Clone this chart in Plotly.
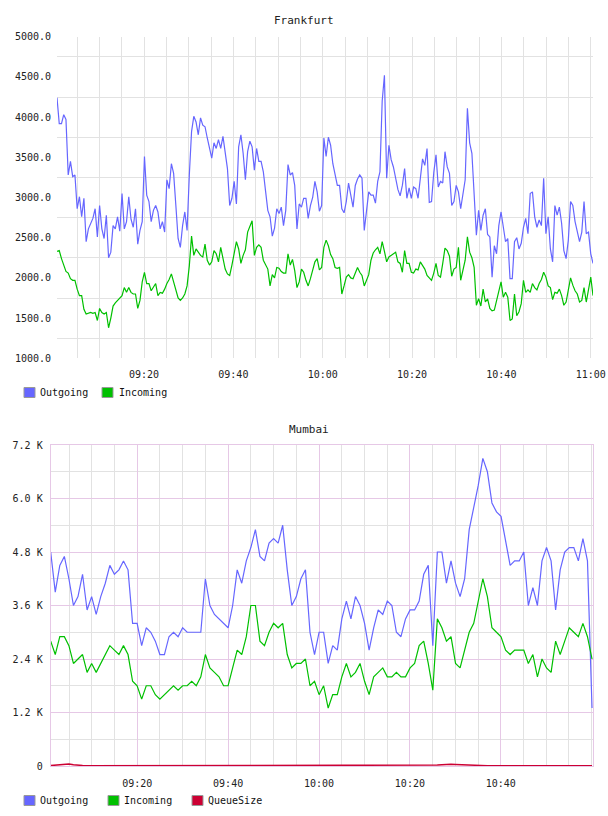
import pandas as pd
import plotly.graph_objects as go

DAY = "2024-01-01 "

# ---------------- Frankfurt (30 s samples, 09:00:31 -> 11:00:31) ----------------
fra_outgoing = [
    4240, 3920, 3920, 4030, 3970, 3280, 3450, 3260, 3280, 2860, 3010, 2760, 2990, 2450, 2610,
    2680, 2740, 2860, 2510, 2900, 2610, 2490, 2780, 2250, 2320, 2650, 2610, 2760, 2580, 3050,
    2610, 2700, 3010, 2730, 2630, 2860, 2420, 2590, 2700, 3510, 3030, 2950, 2700, 2840, 2900,
    2820, 2610, 2700, 2570, 3220, 3110, 3420, 3300, 2900, 2490, 2380, 2650, 2820, 2590, 3280,
    3820, 4010, 3940, 3780, 3990, 3900, 3880, 3740, 3630, 3490, 3680, 3610, 3720, 3610, 3760,
    3530, 3360, 2900, 2990, 3200, 2920, 3630, 3780, 3550, 3220, 3570, 3700, 3630, 3340, 3610,
    3450, 3450, 3320, 3080, 2840, 2760, 2520, 2620, 2860, 2800, 2880, 2650, 2840, 3410, 3280,
    3310, 3150, 2610, 2920, 2880, 2990, 2990, 2740, 2900, 3000, 3200, 3070, 2830, 2900, 3740,
    3510, 3750, 3650, 3420, 3260, 3150, 3150, 2860, 2810, 2950, 3180, 3030, 2880, 3150, 3230,
    3280, 3240, 2590, 2820, 3070, 3030, 3030, 2930, 3200, 3320, 4200, 4520, 3240, 3650, 3470,
    3380, 3220, 3100, 3020, 3150, 3360, 2990, 3120, 2990, 3130, 3110, 2990, 3220, 3480, 3400,
    3610, 2940, 2950, 3310, 3530, 3130, 3200, 3180, 3570, 3380, 3300, 2900, 2950, 3150, 3070,
    2860, 3070, 3220, 4110, 3680, 3550, 3110, 2530, 2840, 2590, 2780, 2860, 2540, 2510, 2010,
    2400, 2300, 2650, 2820, 2650, 2450, 2490, 1990, 1990, 2450, 2500, 2360, 2430, 2630, 2740,
    2550, 3050, 3070, 2760, 2630, 2720, 2650, 3240, 2550, 2760, 2360, 2200, 2900, 2780, 2880,
    2680, 2340, 2240, 2470, 2950, 2900, 2700, 2550, 2450, 2570, 2950, 2550, 2570, 2300, 2180,
]
fra_incoming = [
    2330, 2340, 2240, 2160, 2080, 2060, 1990, 1970, 1970, 1860, 1780, 1780, 1610, 1550, 1560,
    1570, 1560, 1570, 1470, 1620, 1570, 1550, 1570, 1380, 1500, 1650, 1690, 1720, 1740, 1780,
    1880, 1820, 1880, 1820, 1800, 1800, 1620, 1720, 1950, 2070, 1930, 1930, 1840, 1880, 1930,
    1780, 1820, 1810, 1860, 1930, 1980, 2050, 1940, 1840, 1750, 1720, 1750, 1800, 1900, 2150,
    2520, 2280, 2360, 2320, 2280, 2260, 2420, 2220, 2160, 2200, 2340, 2300, 2200, 2380, 2240,
    2110, 2050, 2030, 2160, 2290, 2450, 2360, 2180, 2280, 2350, 2570, 2630, 2710, 2280, 2380,
    2410, 2380, 2220, 2170, 2110, 1900, 2040, 2000, 2130, 2120, 2080, 2060, 2060, 2300, 2160,
    2230, 2090, 1880, 1950, 2110, 2070, 1970, 1900, 1990, 2090, 2200, 2240, 2100, 2130, 2380,
    2470, 2400, 2290, 2240, 2130, 2120, 2130, 1800, 1900, 2010, 2040, 2000, 1990, 2070, 2130,
    2070, 2030, 1900, 1970, 2040, 2220, 2310, 2350, 2380, 2300, 2450, 2330, 2200, 2260, 2280,
    2310, 2320, 2200, 2180, 2070, 2340, 2180, 2180, 2070, 2060, 2110, 2100, 2200, 2150, 2110,
    2030, 2000, 1970, 2060, 2180, 2030, 2010, 2180, 2370, 2340, 2270, 2020, 2110, 2130, 2380,
    1970, 2080, 2220, 2510, 2320, 2250, 2130, 1660, 1740, 1650, 1860, 1700, 1740, 1620, 1590,
    1600, 1710, 1810, 1950, 1760, 1820, 1760, 1470, 1490, 1800, 1530, 1580, 1680, 1970, 1820,
    1850, 1820, 1930, 1880, 1850, 1930, 1980, 2070, 2010, 1900, 1880, 1730, 1820, 1810, 1860,
    1780, 1660, 1700, 1840, 2000, 1910, 1840, 1800, 1700, 1720, 1880, 1700, 1860, 2010, 1780,
]
fra_yticks = [1000, 1500, 2000, 2500, 3000, 3500, 4000, 4500, 5000]
fra_xticks = ["09:20", "09:40", "10:00", "10:20", "10:40", "11:00"]

# ---------------- Mumbai (1 min samples) ----------------
mum_outgoing = [
    4800, 3900, 4500, 4700, 4200, 3600, 3800, 4300, 3500, 3800,
    3400, 3800, 4100, 4500, 4300, 4400, 4600, 4400, 3200, 3200,
    2700, 3100, 3000, 2800, 2500, 2500, 2900, 3000, 2900, 3100,
    3000, 3000, 3000, 3000, 4200, 3600, 3400, 3300, 3200, 3100,
    3600, 4400, 4100, 4600, 4900, 5300, 4700, 4600, 5000, 5100,
    5000, 5400, 4400, 3600, 3800, 4200, 4400, 3000, 2500, 3000,
    3000, 2300, 2700, 2600, 3300, 3700, 3300, 3800, 3600, 3200,
    2600, 3100, 3500, 3400, 3700, 3600, 3000, 2900, 3300, 3500,
    3500, 3700, 4300, 4500, 2700, 4800, 4800, 4100, 4600, 4100,
    3800, 4200, 5300, 5800, 6300, 6900, 6600, 5900, 5700, 5600,
    5000, 4500, 4600, 4600, 4800, 3600, 4000, 3600, 4600, 4900,
    4600, 3500, 4400, 4800, 4900, 4900, 4600, 5100, 4600, 1300,
]
mum_incoming = [
    2800, 2500, 2900, 2900, 2700, 2300, 2400, 2500, 2100, 2300,
    2100, 2300, 2500, 2700, 2600, 2500, 2700, 2500, 1900, 1800,
    1500, 1800, 1800, 1600, 1500, 1600, 1700, 1800, 1700, 1800,
    1800, 1900, 1800, 2000, 2500, 2200, 2100, 2000, 1800, 1800,
    2200, 2600, 2500, 2900, 3600, 3600, 2800, 2700, 3000, 3200,
    3100, 3200, 2500, 2200, 2300, 2300, 2400, 1800, 1900, 1600,
    1800, 1300, 1600, 1600, 2000, 2300, 2000, 2100, 2300, 1900,
    1600, 2000, 2100, 2200, 2000, 2000, 2100, 2000, 2000, 2200,
    2300, 2700, 2800, 2300, 1700, 3300, 3100, 2800, 2900, 2300,
    2200, 2600, 3000, 3200, 3700, 4200, 3800, 3100, 3000, 2900,
    2600, 2500, 2600, 2600, 2600, 2300, 2500, 2000, 2400, 2200,
    2100, 2800, 2500, 2800, 3100, 3000, 2900, 3200, 2900, 2400,
]
mum_queue = [
    10, 20, 40, 50, 45, 30, 15, 10, 5, 5, 5, 5, 5, 5, 5, 5, 5, 5, 5, 5,
    5, 5, 5, 5, 5, 5, 5, 5, 5, 5, 5, 5, 5, 5, 5, 5, 5, 5, 5, 5,
    5, 5, 5, 5, 5, 5, 5, 5, 5, 5, 5, 5, 5, 5, 5, 5, 5, 5, 5, 5,
    5, 5, 5, 5, 5, 5, 5, 5, 5, 5, 5, 5, 5, 5, 5, 5, 5, 5, 5, 5,
    5, 5, 5, 5, 10, 20, 30, 40, 40, 35, 30, 20, 10, 5, 5, 5, 5, 5, 5, 5,
    5, 5, 5, 5, 5, 5, 5, 5, 5, 5, 5, 5, 5, 5, 5, 5, 5, 5, 5, 5,
]
mum_yticks = [0, 1200, 2400, 3600, 4800, 6000, 7200]
mum_yticktext = ["0", "1.2 K", "2.4 K", "3.6 K", "4.8 K", "6.0 K", "7.2 K"]
mum_xticks = ["09:20", "09:40", "10:00", "10:20", "10:40"]

series_names = ["Outgoing", "Incoming", "QueueSize"]
colors = {"Outgoing": "#6666ff", "Incoming": "#00c000", "QueueSize": "#cc0033"}

# ---------------- time axes ----------------
fra_t = pd.date_range(DAY + "09:00:31", DAY + "11:00:31", periods=len(fra_outgoing))
mum_t = pd.date_range(DAY + "09:00:57", DAY + "11:00:05", periods=len(mum_outgoing))
minor5 = pd.date_range(DAY + "09:00", DAY + "11:00", freq="5min")

W, H = 608, 816
def px(x):
    return x / W
def py(y):
    return 1 - y / H

FONT = "DejaVu Sans Mono"
GRID = "#e2e2e2"
PINK = "#e6c8e6"

fig = go.Figure()
lw = 1.2
fig.add_trace(go.Scatter(x=fra_t, y=fra_outgoing, mode="lines", name="Outgoing",
                         line=dict(color=colors["Outgoing"], width=lw), xaxis="x", yaxis="y"))
fig.add_trace(go.Scatter(x=fra_t, y=fra_incoming, mode="lines", name="Incoming",
                         line=dict(color=colors["Incoming"], width=lw), xaxis="x", yaxis="y"))
fig.add_trace(go.Scatter(x=mum_t, y=mum_outgoing, mode="lines", name="Outgoing",
                         line=dict(color=colors["Outgoing"], width=lw), xaxis="x2", yaxis="y2"))
fig.add_trace(go.Scatter(x=mum_t, y=mum_incoming, mode="lines", name="Incoming",
                         line=dict(color=colors["Incoming"], width=lw), xaxis="x2", yaxis="y2"))
fig.add_trace(go.Scatter(x=mum_t, y=mum_queue, mode="lines", name="QueueSize",
                         line=dict(color=colors["QueueSize"], width=1.5), xaxis="x2", yaxis="y2"))

tickfont = dict(family=FONT, size=10, color="#222")

fig.update_layout(
    width=W, height=H, margin=dict(l=0, r=0, t=0, b=0, autoexpand=False),
    paper_bgcolor="white", plot_bgcolor="white", showlegend=False,
    xaxis=dict(
        domain=[px(57), px(593)], anchor="y", type="date", automargin=False,
        range=[DAY + "09:00:31", DAY + "11:00:31"],
        tickmode="array", tickvals=[DAY + t for t in fra_xticks], ticktext=fra_xticks,
        showgrid=True, gridcolor=GRID, gridwidth=1,
        minor=dict(tickmode="array", tickvals=list(minor5), showgrid=True, gridcolor=GRID),
        showline=False, zeroline=False, ticks="", tickfont=tickfont, ticklabelstandoff=9,
    ),
    yaxis=dict(
        domain=[py(358.3), py(36.7)], anchor="x", range=[1000, 5000], automargin=False,
        tickmode="array", tickvals=fra_yticks, ticktext=[f"{v:.1f}" for v in fra_yticks],
        showgrid=False,
        minor=dict(tickmode="array", tickvals=[v + 250 for v in fra_yticks[:-1]],
                   showgrid=True, gridcolor=GRID),
        showline=False, zeroline=False, ticks="", tickfont=tickfont, ticklabelstandoff=5,
    ),
    xaxis2=dict(
        domain=[px(50.7), px(593)], anchor="y2", type="date", automargin=False,
        range=[DAY + "09:00:57", DAY + "11:00:18"],
        tickmode="array", tickvals=[DAY + t for t in mum_xticks], ticktext=mum_xticks,
        showgrid=True, gridcolor=PINK, gridwidth=1,
        minor=dict(tickmode="array", tickvals=list(minor5), showgrid=True, gridcolor=GRID),
        showline=True, mirror=True, linecolor=PINK, linewidth=1,
        zeroline=False, ticks="", tickfont=tickfont, ticklabelstandoff=8,
    ),
    yaxis2=dict(
        domain=[py(766), py(445)], anchor="x2", range=[0, 7200], automargin=False,
        tickmode="array", tickvals=mum_yticks, ticktext=mum_yticktext,
        showgrid=True, gridcolor=PINK,
        minor=dict(tickmode="array", tickvals=[v + 600 for v in mum_yticks[:-1]],
                   showgrid=True, gridcolor=GRID),
        showline=True, mirror=True, linecolor=PINK, linewidth=1,
        zeroline=False, ticks="", tickfont=tickfont, ticklabelstandoff=5,
    ),
)

# titles
titlefont = dict(family=FONT, size=11, color="#222")
fig.add_annotation(text="Frankfurt", x=px(304), y=py(20), xref="paper", yref="paper",
                   showarrow=False, xanchor="center", yanchor="middle", font=titlefont)
fig.add_annotation(text="Mumbai", x=px(309), y=py(429), xref="paper", yref="paper",
                   showarrow=False, xanchor="center", yanchor="middle", font=titlefont)

# legends (box + label)
legfont = dict(family=FONT, size=10, color="#111")
def legend_item(name, box_x, text_x, cy):
    fig.add_shape(type="rect", xref="paper", yref="paper",
                  x0=px(box_x), x1=px(box_x + 11), y0=py(cy + 5), y1=py(cy - 5),
                  fillcolor=colors[name], line=dict(color="#999", width=1))
    fig.add_annotation(text=name, x=px(text_x), y=py(cy), xref="paper", yref="paper",
                       showarrow=False, xanchor="left", yanchor="middle", font=legfont)

for name, bx, tx in zip(series_names[:2], [24, 102], [38, 117]):
    legend_item(name, bx, tx, 392.5)
for name, bx, tx in zip(series_names, [24, 108, 192], [38, 122, 206]):
    legend_item(name, bx, tx, 800.5)

fig.write_html("out.html")
